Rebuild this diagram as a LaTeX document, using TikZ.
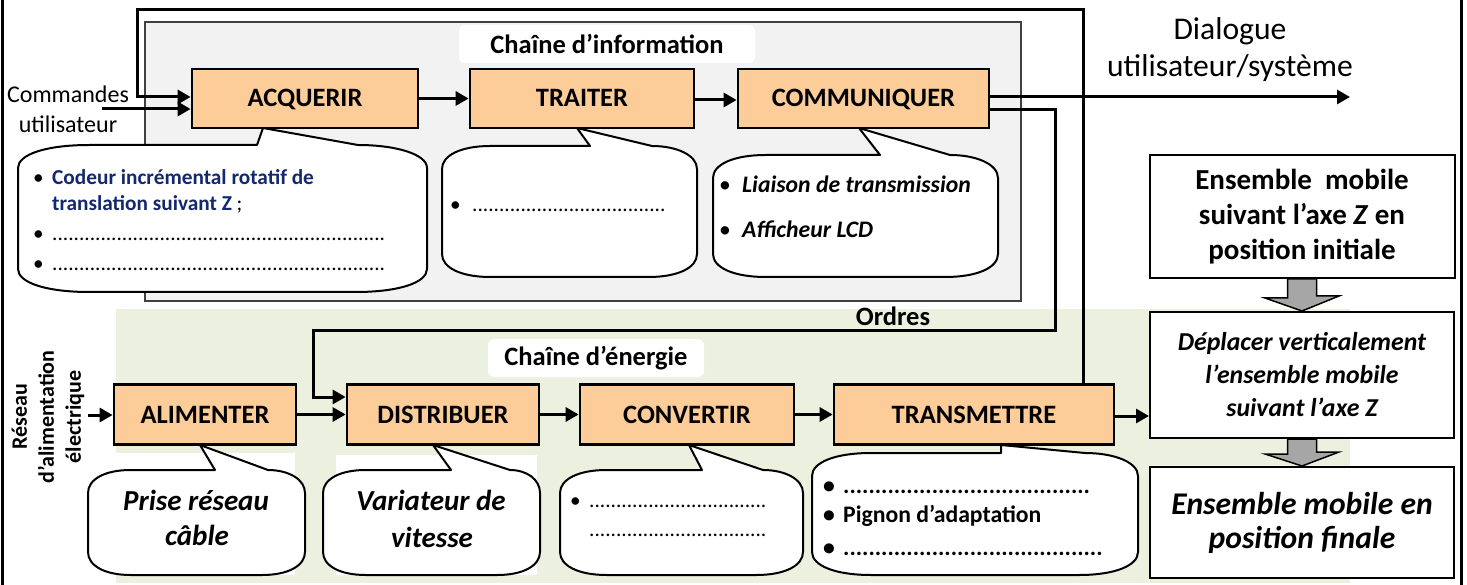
\documentclass[tikz,border=0pt]{standalone}
\usepackage{fontspec}
\setmainfont{Carlito}
\usetikzlibrary{arrows.meta,calc}
\definecolor{orangefill}{RGB}{252,204,153}
\definecolor{greenbg}{RGB}{235,241,222}
\definecolor{greybg}{RGB}{242,242,242}
\definecolor{framegrey}{RGB}{64,64,64}
\definecolor{arrowgrey}{RGB}{166,166,166}
\definecolor{navy}{RGB}{20,40,110}
\newcommand\fsz[2]{\fontsize{#1pt}{#2pt}\selectfont}
\newcommand\dotrow[1]{\hbox to #1pt{\leaders\hbox{.}\hfill}}
% x1,y1,x2,y2, baseL, tipx, tipy, baseR
\newcommand\bubble[8]{%
  \pgfmathsetmacro\bbw{#3-#1}%
  \pgfmathsetmacro\bbrx{0.15*\bbw+10}%
  \pgfmathsetmacro\bbry{23}%
  \draw[bubblestyle] (#1,{#2+\bbry}) .. controls (#1,{#2+0.4*\bbry}) and ({#1+0.4*\bbrx},#2) .. ({#1+\bbrx},#2)
    -- (#5,#2) -- (#6,#7) -- (#8,#2)
    .. controls ({#8+0.55*(#3-#8)},#2) and (#3,{#2+0.4*\bbry}) .. (#3,{#2+\bbry})
    -- (#3,{#4-\bbry}) .. controls (#3,{#4-0.4*\bbry}) and ({#3-0.4*\bbrx},#4) .. ({#3-\bbrx},#4)
    -- ({#1+\bbrx},#4) .. controls ({#1+0.4*\bbrx},#4) and (#1,{#4-0.4*\bbry}) .. (#1,{#4-\bbry}) -- cycle;}
\begin{document}
\begin{tikzpicture}[x=1pt,y=-1pt,
  funcbox/.style={draw,line width=2.7pt,fill=orangefill,inner sep=0pt,font=\fsz{26.5}{30}\bfseries,text height=17pt,text depth=0pt},
  rbox/.style={draw,line width=2pt,fill=white,inner sep=0pt,align=center},
  labbox/.style={fill=white,rounded corners=6pt,inner sep=0pt,font=\fsz{26.5}{30}\bfseries},
  arr/.style={line width=3pt,-{Triangle[length=13pt,width=14pt]}},
  bubblestyle/.style={draw=black,line width=2pt,fill=white,line join=round},
  garrow/.style={draw=black,line width=1.5pt,fill=arrowgrey},
  lbl/.style={inner sep=0pt,anchor=base west},
  ctext/.style={inner sep=0pt,anchor=base}]
\useasboundingbox (0,0) rectangle (1467,585);
\clip (0,0) rectangle (1467,585);
% backgrounds
\fill[greenbg] (116,309) rectangle (1350,583);
\fill[white] (116,453) rectangle (295,575);
\fill[white] (336,455) rectangle (537,575);
\draw[draw=framegrey,line width=2pt,fill=greybg] (145,22) rectangle (1021,301);
\draw[line width=3pt] (2,-10) rectangle (1461,600);
% callouts
\bubble{18}{145}{427}{292}{257}{263}{128}{358}
\bubble{442}{146}{697}{277}{590}{577}{128}{652}
\bubble{713}{155}{998}{277}{880}{859}{128}{950}
\bubble{88}{470}{305}{575}{215}{200}{445}{268}
\bubble{323}{470}{540}{575}{451}{433}{445}{510}
\bubble{560}{470}{803}{575}{702}{689}{445}{763}
\bubble{812}{453}{1138}{575}{1001}{1001}{445}{1085}
% labels of the chains
\node[labbox,minimum width=296,minimum height=38] (lInfo) at (607,44) {Chaîne d’information};
\node[labbox,minimum width=216,minimum height=38] (lEn) at (596,358) {Chaîne d’énergie};
% function boxes
\node[funcbox,minimum width=226,minimum height=59] (ACQ) at (305,98.5) {ACQUERIR};
\node[funcbox,minimum width=224,minimum height=59] (TRA) at (582,98.5) {TRAITER};
\node[funcbox,minimum width=251,minimum height=59] (COM) at (863.5,98.5) {COMMUNIQUER};
\node[funcbox,minimum width=182,minimum height=60] (ALI) at (205,414.5) {ALIMENTER};
\node[funcbox,minimum width=192,minimum height=60] (DIS) at (443,414.5) {DISTRIBUER};
\node[funcbox,minimum width=214,minimum height=60] (CONV) at (687,414.5) {CONVERTIR};
\node[funcbox,minimum width=280,minimum height=60] (TRANS) at (974,414.5) {TRANSMETTRE};
% right column
\node[rbox,minimum width=305,minimum height=123,font=\fsz{29}{35}\bfseries] (E1) at (1302,216.5) {Ensemble\ \ mobile\\suivant l’axe \textit{Z} en\\position initiale};
\node[rbox,minimum width=304,minimum height=126,font=\fsz{25.8}{33}\bfseries\itshape] (DEP) at (1302,375) {Déplacer verticalement\\l’ensemble mobile\\suivant l’axe Z};
\node[rbox,minimum width=304,minimum height=111,font=\fsz{31.6}{34}\bfseries\itshape] (E2) at (1302,522.5) {Ensemble mobile en\\position finale};
\draw[garrow] ([xshift=-14.5pt]E1.south) -- ++(0,19) -- ++(-22.5,0) -- (DEP.north) -- ++(37,-15) -- ++(-22.5,0) -- ([xshift=14.5pt]E1.south) -- cycle;
\draw[garrow] ([xshift=-14.5pt]DEP.south) -- ++(0,15) -- ++(-22.5,0) -- (E2.north) -- ++(37,-14) -- ++(-22.5,0) -- ([xshift=14.5pt]DEP.south) -- cycle;
% connectors
\coordinate (fbTop) at (1083,10);
\coordinate (fbLeft) at (137,10);
\draw[arr] (TRANS.north -| fbTop) -- (fbTop) -- (fbLeft) |- ($(ACQ.west)+(0,-1.5)$);
\coordinate (cmdIn) at (102,109);
\draw[arr] (cmdIn) -- (ACQ.west |- cmdIn);
\draw[arr] (ACQ.east) -- (TRA.west);
\draw[arr] ($(TRA.east)+(0,1.5)$) -- ($(COM.west)+(0,1.5)$);
\coordinate (dlgEnd) at (1350,97);
\draw[arr] (COM.east |- dlgEnd) -- (dlgEnd);
\coordinate (ordR) at (1055,330);
\coordinate (ordL) at (313,330);
\draw[arr] (COM.east |- 0,110) -| (ordR) -- (ordL) |- (DIS.west |- 0,397);
\coordinate (resIn) at (88,415);
\draw[arr] (resIn) -- (ALI.west |- resIn);
\draw[arr] (ALI.east) -- (DIS.west);
\draw[arr] (DIS.east) -- (CONV.west);
\draw[arr] (CONV.east) -- (TRANS.west);
\draw[arr] (TRANS.east |- 0,416) -- (DEP.west |- 0,416);
% free texts
\node[ctext,font=\fsz{24}{30}] (cmdA) at (68,103) {Commandes};
\node[ctext,font=\fsz{24}{30}] (cmdB) at (68,133) {utilisateur};
\node[ctext,font=\fsz{31.6}{37}] (dlgA) at (1230,40) {Dialogue};
\node[ctext,font=\fsz{31.6}{37}] (dlgB) at (1230,77) {utilisateur/système};
\node[ctext,font=\fsz{26.5}{30}\bfseries] (ord) at (893,325) {Ordres};
\node[rotate=90,align=center,inner sep=0pt,font=\fsz{22}{27}\bfseries] (res) at (48,417) {Réseau\\d’alimentation\\électrique};
% callout texts
\begin{scope}[every node/.style={lbl,font=\fsz{21.3}{26}}]
\node (c1p1) at (33,185) {•};
\node (c1t1) at (52,185) {\textcolor{navy}{\bfseries Codeur incrémental rotatif de}};
\node (c1t2) at (52,211) {\textcolor{navy}{\bfseries translation suivant Z} ;};
\node (c1p2) at (33,241) {•};
\node (c1d2) at (52,241) {\dotrow{336}};
\node (c1p3) at (33,271) {•};
\node (c1d3) at (52,271) {\dotrow{336}};
\node (c2p) at (450,212) {•};
\node (c2d) at (472,212) {\dotrow{195}};
\node (c6p) at (570,507) {•};
\node (c6d1) at (589,507) {\dotrow{181}};
\node (c6d2) at (589,536) {\dotrow{181}};
\end{scope}
\begin{scope}[every node/.style={lbl,font=\fsz{23.7}{28}\bfseries}]
\node (c3p1) at (719,193) {\mdseries •};
\node (c3t1) at (742,193) {\itshape Liaison de transmission};
\node (c3p2) at (719,238) {\mdseries •};
\node (c3t2) at (742,238) {\itshape Afficheur LCD};
\node (c7p1) at (823,493) {•};
\node (c7d1) at (843,493) {\dotrow{247}};
\node (c7p2) at (823,522) {•};
\node (c7t2) at (843,522) {Pignon d’adaptation};
\node (c7p3) at (823,555) {•};
\node (c7d3) at (843,555) {\dotrow{262}};
\end{scope}
\begin{scope}[every node/.style={ctext,font=\fsz{29}{35}\bfseries\itshape}]
\node (c4a) at (196,510) {Prise réseau};
\node (c4b) at (197,545) {câble};
\node (c5a) at (431,510) {Variateur de};
\node (c5b) at (432,547) {vitesse};
\end{scope}
\end{tikzpicture}
\end{document}
